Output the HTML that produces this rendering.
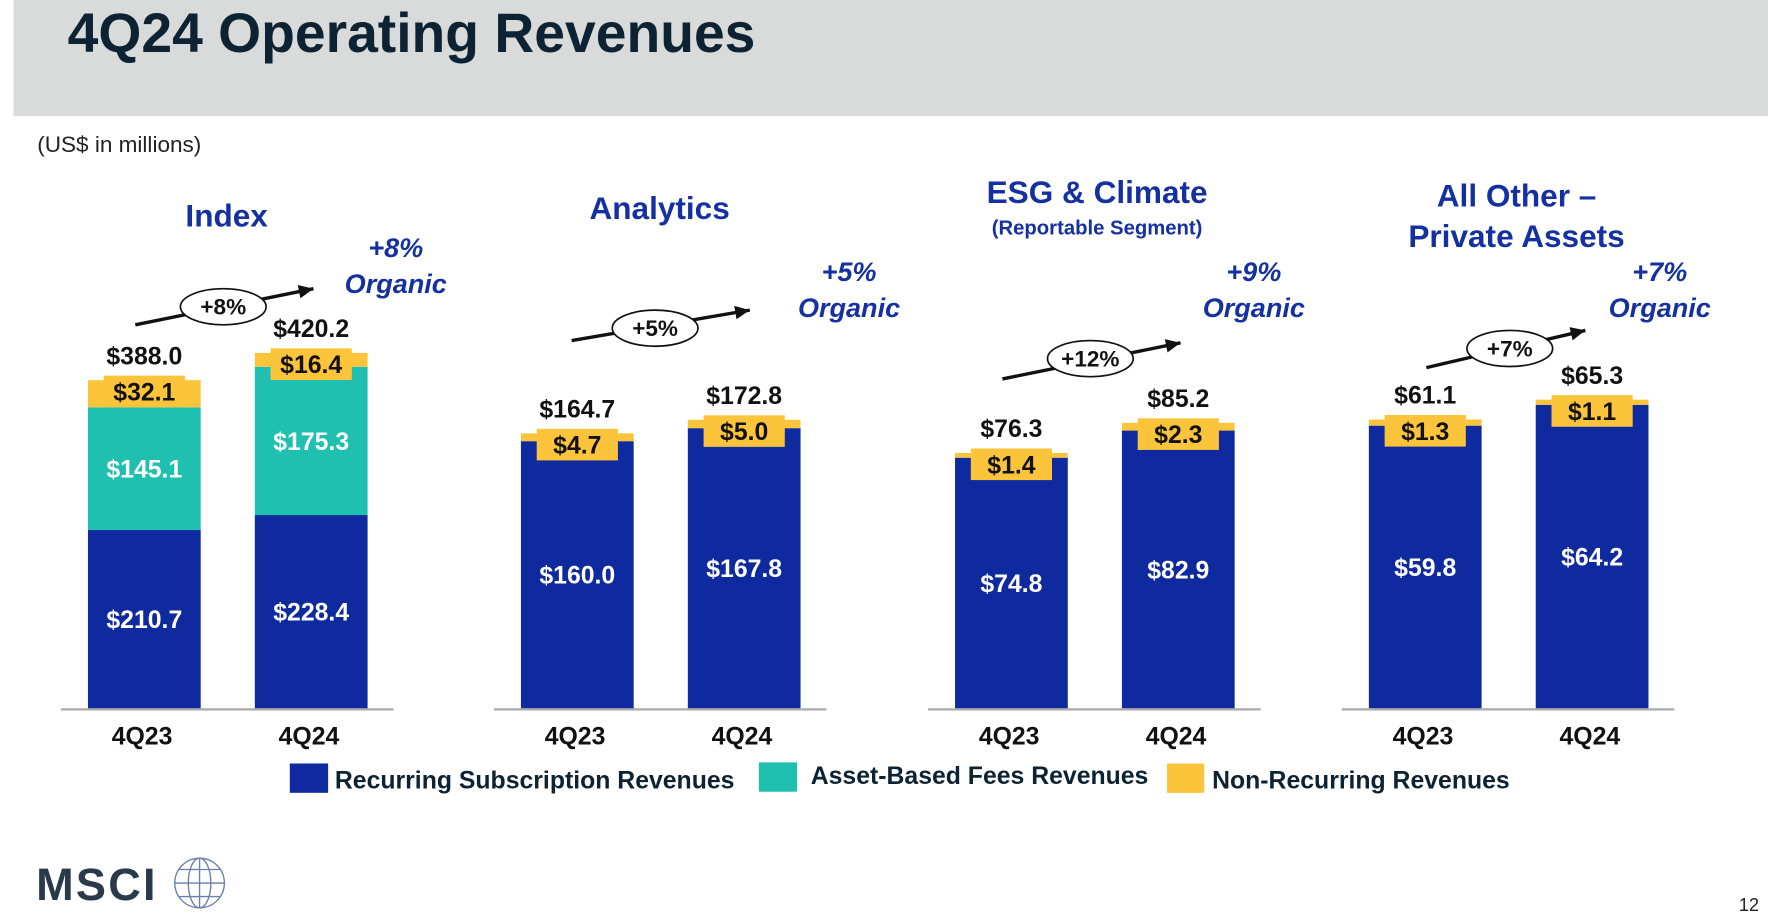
<!DOCTYPE html>
<html><head><meta charset="utf-8"><style>
html,body{margin:0;padding:0;background:#fff;}
svg{display:block;font-family:"Liberation Sans",Arial,sans-serif;}
</style></head><body>
<svg id="chart" width="1768" height="918" viewBox="0 0 1568 814" preserveAspectRatio="none" xmlns="http://www.w3.org/2000/svg">
<rect x="12" y="0" width="1556" height="103" fill="#d9dbda"/>
<text x="60" y="46" font-size="49" font-weight="bold" fill="#0d2233">4Q24 Operating Revenues</text>
<text x="33" y="135" font-size="20" fill="#222">(US$ in millions)</text>
<g id="panels"></g>
<g font-size="22" font-weight="bold" fill="#0d2233">
<rect x="257" y="677" width="34" height="26" fill="#0f2a9e"/>
<text x="297" y="699">Recurring Subscription Revenues</text>
<rect x="673" y="676" width="34" height="26" fill="#20c0b0"/>
<text x="719" y="695">Asset-Based Fees Revenues</text>
<rect x="1035" y="677" width="33" height="26" fill="#fcc43a"/>
<text x="1075" y="699">Non-Recurring Revenues</text>
</g>
<text x="32" y="798" font-size="40" font-weight="bold" fill="#2a3a4a" letter-spacing="2">MSCI</text>
<g stroke="#6a7fa8" stroke-width="1.2" fill="none">
<circle cx="177" cy="783" r="22"/><ellipse cx="177" cy="783" rx="10" ry="22"/><line x1="155" y1="783" x2="199" y2="783"/><line x1="177" y1="761" x2="177" y2="805"/><line x1="159" y1="771" x2="195" y2="771"/><line x1="159" y1="795" x2="195" y2="795"/>
</g>
<text x="1560" y="808" font-size="16" text-anchor="end" fill="#222">12</text>
</svg>
<script>
const periods = ["4Q23","4Q24"];
const segments = ["Index","Analytics","ESG & Climate","All Other – Private Assets"];
const recurring = [[210.7,228.4],[160.0,167.8],[74.8,82.9],[59.8,64.2]];
const assetBased = [[145.1,175.3],[0,0],[0,0],[0,0]];
const nonRecurring = [[32.1,16.4],[4.7,5.0],[1.4,2.3],[1.3,1.1]];
const totals = [[388.0,420.2],[164.7,172.8],[76.3,85.2],[61.1,65.3]];
const growth = ["+8%","+5%","+12%","+7%"];
const organic = ["+8%","+5%","+9%","+7%"];

const NS="http://www.w3.org/2000/svg";
const root=document.getElementById('panels');
const base=628;
const panelX=[54,438,823,1190];
const pxPerUnit=[0.75,1.48,2.97,4.19];
const titleLines=[[["Index",201,201,28]],[["Analytics",585,194,28]],[["ESG & Climate",973,180,28],["(Reportable Segment)",973,208,18]],[["All Other –",1345,183,28],["Private Assets",1345,219,28]]];
const organicPos=[[351,228],[753,249],[1112,249],[1472,249]];
const arrows=[[120,288,278,256,198,272],[507,302,665,275,581,291],[889,336,1047,304,967,318],[1265,326,1406,293,1339,309]];
function mk(tag,attrs,parent){const e=document.createElementNS(NS,tag);for(const k in attrs)e.setAttribute(k,attrs[k]);(parent||root).appendChild(e);return e;}
function txt(s,attrs,parent){const e=mk('text',attrs,parent);e.textContent=s;return e;}
segments.forEach((seg,p)=>{
  const g=mk('g',{});
  
  
  const x0=panelX[p], s=pxPerUnit[p];
  const yv=v=>v*s;
  const ax=mk('line',{x1:x0,x2:x0+295,y1:base+1,y2:base+1,stroke:'#aaa','stroke-width':2},g);
  
  
  titleLines[p].forEach(t=>{const e=txt(t[0],{x:t[1],y:t[2],'font-size':t[3],'font-weight':'bold',fill:'#1530a0','text-anchor':'middle'},g);
    
    });
  const o=organicPos[p];
  const o1=txt(organic[p],{x:o[0],y:o[1],'font-size':24,'font-weight':'bold','font-style':'italic',fill:'#1530a0','text-anchor':'middle'},g);
  
  
  const o2=txt('Organic',{x:o[0],y:o[1]+32,'font-size':24,'font-weight':'bold','font-style':'italic',fill:'#1530a0','text-anchor':'middle'},g);
  
  
  const a=arrows[p];
  const al=mk('line',{x1:a[0],y1:a[1],x2:a[2],y2:a[3],stroke:'#111','stroke-width':3},g);
  
  
  const ang=Math.atan2(a[3]-a[1],a[2]-a[0]);
  const hx=a[2],hy=a[3];
  const pts=[[hx,hy],[hx-13*Math.cos(ang)+6*Math.sin(ang),hy-13*Math.sin(ang)-6*Math.cos(ang)],[hx-13*Math.cos(ang)-6*Math.sin(ang),hy-13*Math.sin(ang)+6*Math.cos(ang)]];
  const ah=mk('polygon',{points:pts.map(q=>q.join(',')).join(' '),fill:'#111'},g);
  
  
  const el=mk('ellipse',{cx:a[4],cy:a[5],rx:38,ry:16,fill:'#fff',stroke:'#111','stroke-width':1.5},g);
  
  
  const gt=txt(growth[p],{x:a[4],y:a[5]+7,'font-size':20,'font-weight':'bold',fill:'#111','text-anchor':'middle'},g);
  
  
  periods.forEach((per,i)=>{
    const bx=x0+24+i*148, bw=100, cx=bx+bw/2;
    const r=recurring[p][i], ab=assetBased[p][i], nr=nonRecurring[p][i], tot=totals[p][i];
    const yR=base-yv(r), yA=yR-yv(ab), yN=yA-yv(nr);
    const b1=mk('rect',{x:bx,y:yR,width:bw,height:yv(r),fill:'#0f2a9e'},g);
    
    
    if(ab>0){const b2=mk('rect',{x:bx,y:yA,width:bw,height:yv(ab),fill:'#20c0b0'},g);
      
      
      const l=txt('$'+ab.toFixed(1),{x:cx,y:(yR+yA)/2+8,'font-size':22,'font-weight':'bold',fill:'#fff','text-anchor':'middle'},g);
      
      }
    const b3=mk('rect',{x:bx,y:yN,width:bw,height:Math.max(yv(nr),1),fill:'#fcc43a'},g);
    
    
    const lb=mk('rect',{x:cx-36,y:yN-4,width:72,height:Math.max(28,yA-yN+4),fill:'#fcc43a'},g);
    
    
    const ln=txt('$'+nr.toFixed(1),{x:cx,y:yN+18,'font-size':22,'font-weight':'bold',fill:'#111','text-anchor':'middle'},g);
    
    
    const lr=txt('$'+r.toFixed(1),{x:cx,y:(base+yR)/2+8,'font-size':22,'font-weight':'bold',fill:'#fff','text-anchor':'middle'},g);
    
    
    const lt=txt('$'+tot.toFixed(1),{x:cx,y:yN-14,'font-size':22,'font-weight':'bold',fill:'#111','text-anchor':'middle'},g);
    
    
    const xl=txt(per,{x:cx-2,y:660,'font-size':22,'font-weight':'bold',fill:'#111','text-anchor':'middle'},g);
    
    
  });
});
</script>
</body></html>
